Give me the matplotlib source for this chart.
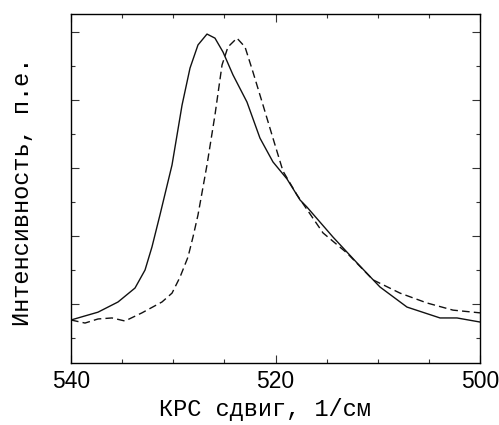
import matplotlib
matplotlib.use("Agg")
import matplotlib.pyplot as plt
from matplotlib.ticker import MultipleLocator, NullFormatter

# сплошная кривая
solid_x = [540.00, 538.63, 537.36, 535.40, 533.74, 532.76, 532.08, 531.30, 530.12, 529.14,
           528.36, 527.58, 526.70, 525.92, 525.13, 524.16, 522.79, 521.52, 520.25, 518.88,
           517.60, 516.92, 514.38, 512.03, 509.78, 507.14, 503.91, 502.25, 500.00]
solid_y = [0.53, 0.65, 0.76, 1.06, 1.47, 2.00, 2.68, 3.62, 5.09, 6.85,
           7.94, 8.62, 8.94, 8.82, 8.41, 7.74, 6.94, 5.88, 5.18, 4.68,
           4.06, 3.85, 2.97, 2.21, 1.50, 0.91, 0.59, 0.59, 0.47]

# штриховая кривая
dash_x = [540.00, 538.63, 537.36, 535.99, 534.72, 533.06, 531.10, 530.12, 529.34, 528.56,
          528.07, 527.58, 526.70, 525.92, 525.23, 524.65, 523.77, 522.98, 522.20, 521.22,
          520.25, 519.27, 517.90, 515.35, 513.01, 510.46, 507.82, 505.18, 502.64, 500.00]
dash_y = [0.53, 0.44, 0.56, 0.59, 0.50, 0.74, 1.06, 1.32, 1.79, 2.38,
          2.97, 3.62, 5.09, 6.56, 8.03, 8.56, 8.82, 8.56, 7.82, 6.85,
          5.88, 4.91, 4.21, 3.09, 2.50, 1.71, 1.32, 1.03, 0.82, 0.74]

x_ticks = [540, 520, 500]

fig = plt.figure(figsize=(4.99, 4.25), dpi=100)
ax = fig.add_axes([71 / 499, 62 / 425, 409 / 499, 349 / 425])

ax.plot(solid_x, solid_y, color="#111111", lw=1.0)
ax.plot(dash_x, dash_y, color="#111111", lw=1.0, dashes=(5.5, 3))

ax.set_xlim(540, 500)
ax.set_ylim(-0.735, 9.53)
ax.set_xticks(x_ticks)
ax.xaxis.set_minor_locator(MultipleLocator(5))
ax.yaxis.set_major_locator(MultipleLocator(2, offset=1))
ax.yaxis.set_minor_locator(MultipleLocator(1))
ax.yaxis.set_major_formatter(NullFormatter())

ax.tick_params(which="both", direction="in", top=True, right=True, width=0.8, color="#333333")
ax.tick_params(which="major", length=6)
ax.tick_params(which="minor", length=3)
ax.tick_params(axis="x", labelsize=16.5, pad=5)
for lbl in ax.get_xticklabels():
    lbl.set_family("Liberation Sans")

for s in ax.spines.values():
    s.set_linewidth(1.0)

ax.set_xlabel("КРС сдвиг, 1/см", family="Liberation Mono", fontsize=17)
ax.xaxis.set_label_coords(0.473, -0.10)
ax.set_ylabel("Интенсивность, п.е.", family="Liberation Mono", fontsize=17)
ax.yaxis.set_label_coords(-0.09, 0.49)

fig.savefig("out.png", dpi=100)
